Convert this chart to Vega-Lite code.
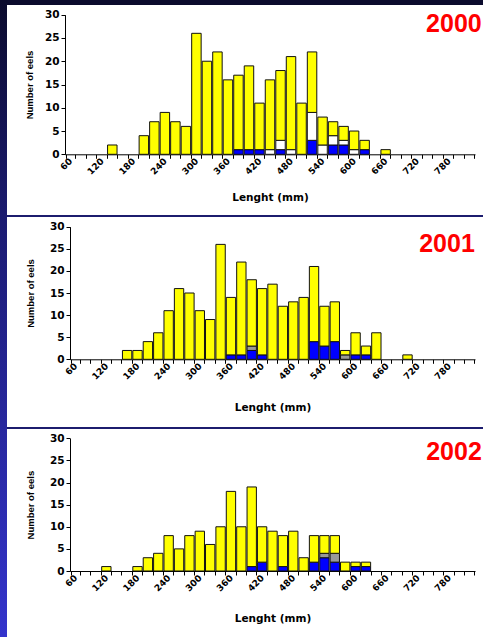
{
  "$schema": "https://vega.github.io/schema/vega-lite/v6.json",
  "background": "#0b0b2d",
  "padding": 0,
  "spacing": 0,
  "bounds": "flush",
  "config": {
    "font": "Liberation Sans",
    "view": {"stroke": null},
    "axis": {"grid": false, "domainColor": "#000000", "tickColor": "#000000", "labelColor": "#000000", "titleColor": "#000000", "domainWidth": 1, "tickWidth": 1},
    "axisY": {"labelOverlap": false, "tickCount": 7, "labelSeparation": 0}
  },
  "datasets": {
    "eels": [
      {"year":"2000","length":140,"stage":"Yellow","n":2},
      {"year":"2000","length":200,"stage":"Yellow","n":4},
      {"year":"2000","length":220,"stage":"Yellow","n":7},
      {"year":"2000","length":240,"stage":"Yellow","n":9},
      {"year":"2000","length":260,"stage":"Yellow","n":7},
      {"year":"2000","length":280,"stage":"Yellow","n":6},
      {"year":"2000","length":300,"stage":"Yellow","n":26},
      {"year":"2000","length":320,"stage":"Yellow","n":20},
      {"year":"2000","length":340,"stage":"Yellow","n":22},
      {"year":"2000","length":360,"stage":"Yellow","n":16},
      {"year":"2000","length":380,"stage":"Silver","n":1},
      {"year":"2000","length":380,"stage":"Yellow","n":16},
      {"year":"2000","length":400,"stage":"Silver","n":1},
      {"year":"2000","length":400,"stage":"Yellow","n":18},
      {"year":"2000","length":420,"stage":"Silver","n":1},
      {"year":"2000","length":420,"stage":"Yellow","n":10},
      {"year":"2000","length":440,"stage":"Silvering","n":1},
      {"year":"2000","length":440,"stage":"Yellow","n":15},
      {"year":"2000","length":460,"stage":"Silver","n":1},
      {"year":"2000","length":460,"stage":"Silvering","n":2},
      {"year":"2000","length":460,"stage":"Yellow","n":15},
      {"year":"2000","length":480,"stage":"Silvering","n":1},
      {"year":"2000","length":480,"stage":"Yellow","n":20},
      {"year":"2000","length":500,"stage":"Yellow","n":11},
      {"year":"2000","length":520,"stage":"Silver","n":3},
      {"year":"2000","length":520,"stage":"Silvering","n":6},
      {"year":"2000","length":520,"stage":"Yellow","n":13},
      {"year":"2000","length":540,"stage":"Silvering","n":2},
      {"year":"2000","length":540,"stage":"Yellow","n":6},
      {"year":"2000","length":560,"stage":"Silver","n":2},
      {"year":"2000","length":560,"stage":"Silvering","n":2},
      {"year":"2000","length":560,"stage":"Yellow","n":3},
      {"year":"2000","length":580,"stage":"Silver","n":2},
      {"year":"2000","length":580,"stage":"Silvering","n":1},
      {"year":"2000","length":580,"stage":"Yellow","n":3},
      {"year":"2000","length":600,"stage":"Silvering","n":1},
      {"year":"2000","length":600,"stage":"Yellow","n":4},
      {"year":"2000","length":620,"stage":"Silver","n":1},
      {"year":"2000","length":620,"stage":"Yellow","n":2},
      {"year":"2000","length":660,"stage":"Yellow","n":1},

      {"year":"2001","length":160,"stage":"Yellow","n":2},
      {"year":"2001","length":180,"stage":"Yellow","n":2},
      {"year":"2001","length":200,"stage":"Yellow","n":4},
      {"year":"2001","length":220,"stage":"Yellow","n":6},
      {"year":"2001","length":240,"stage":"Yellow","n":11},
      {"year":"2001","length":260,"stage":"Yellow","n":16},
      {"year":"2001","length":280,"stage":"Yellow","n":15},
      {"year":"2001","length":300,"stage":"Yellow","n":11},
      {"year":"2001","length":320,"stage":"Yellow","n":9},
      {"year":"2001","length":340,"stage":"Yellow","n":26},
      {"year":"2001","length":360,"stage":"Silver","n":1},
      {"year":"2001","length":360,"stage":"Yellow","n":13},
      {"year":"2001","length":380,"stage":"Silver","n":1},
      {"year":"2001","length":380,"stage":"Yellow","n":21},
      {"year":"2001","length":400,"stage":"Silver","n":2},
      {"year":"2001","length":400,"stage":"Silvering","n":1},
      {"year":"2001","length":400,"stage":"Yellow","n":15},
      {"year":"2001","length":420,"stage":"Silver","n":1},
      {"year":"2001","length":420,"stage":"Yellow","n":15},
      {"year":"2001","length":440,"stage":"Yellow","n":17},
      {"year":"2001","length":460,"stage":"Yellow","n":12},
      {"year":"2001","length":480,"stage":"Yellow","n":13},
      {"year":"2001","length":500,"stage":"Yellow","n":14},
      {"year":"2001","length":520,"stage":"Silver","n":4},
      {"year":"2001","length":520,"stage":"Yellow","n":17},
      {"year":"2001","length":540,"stage":"Silver","n":3},
      {"year":"2001","length":540,"stage":"Yellow","n":9},
      {"year":"2001","length":560,"stage":"Silver","n":4},
      {"year":"2001","length":560,"stage":"Yellow","n":9},
      {"year":"2001","length":580,"stage":"Silvering","n":1},
      {"year":"2001","length":580,"stage":"Yellow","n":1},
      {"year":"2001","length":600,"stage":"Silver","n":1},
      {"year":"2001","length":600,"stage":"Yellow","n":5},
      {"year":"2001","length":620,"stage":"Silver","n":1},
      {"year":"2001","length":620,"stage":"Yellow","n":2},
      {"year":"2001","length":640,"stage":"Yellow","n":6},
      {"year":"2001","length":700,"stage":"Yellow","n":1},

      {"year":"2002","length":120,"stage":"Yellow","n":1},
      {"year":"2002","length":180,"stage":"Yellow","n":1},
      {"year":"2002","length":200,"stage":"Yellow","n":3},
      {"year":"2002","length":220,"stage":"Yellow","n":4},
      {"year":"2002","length":240,"stage":"Yellow","n":8},
      {"year":"2002","length":260,"stage":"Yellow","n":5},
      {"year":"2002","length":280,"stage":"Yellow","n":8},
      {"year":"2002","length":300,"stage":"Yellow","n":9},
      {"year":"2002","length":320,"stage":"Yellow","n":6},
      {"year":"2002","length":340,"stage":"Yellow","n":10},
      {"year":"2002","length":360,"stage":"Yellow","n":18},
      {"year":"2002","length":380,"stage":"Yellow","n":10},
      {"year":"2002","length":400,"stage":"Silver","n":1},
      {"year":"2002","length":400,"stage":"Yellow","n":18},
      {"year":"2002","length":420,"stage":"Silver","n":2},
      {"year":"2002","length":420,"stage":"Yellow","n":8},
      {"year":"2002","length":440,"stage":"Yellow","n":9},
      {"year":"2002","length":460,"stage":"Silver","n":1},
      {"year":"2002","length":460,"stage":"Yellow","n":7},
      {"year":"2002","length":480,"stage":"Yellow","n":9},
      {"year":"2002","length":500,"stage":"Yellow","n":3},
      {"year":"2002","length":520,"stage":"Silver","n":2},
      {"year":"2002","length":520,"stage":"Yellow","n":6},
      {"year":"2002","length":540,"stage":"Silver","n":3},
      {"year":"2002","length":540,"stage":"Silvering","n":1},
      {"year":"2002","length":540,"stage":"Yellow","n":4},
      {"year":"2002","length":560,"stage":"Silver","n":2},
      {"year":"2002","length":560,"stage":"Silvering","n":2},
      {"year":"2002","length":560,"stage":"Yellow","n":4},
      {"year":"2002","length":580,"stage":"Yellow","n":2},
      {"year":"2002","length":600,"stage":"Silver","n":1},
      {"year":"2002","length":600,"stage":"Yellow","n":1},
      {"year":"2002","length":620,"stage":"Silver","n":1},
      {"year":"2002","length":620,"stage":"Yellow","n":1}
    ]
  },
  "hconcat": [
    {
      "width": 7, "height": 637,
      "view": {"fill": {"gradient": "linear", "x1": 0, "y1": 0, "x2": 0, "y2": 1, "stops": [{"offset": 0, "color": "#0a0a2c"}, {"offset": 0.35, "color": "#1b1b72"}, {"offset": 1, "color": "#3434cc"}]}, "stroke": null},
      "data": {"values": []},
      "mark": "rect",
      "encoding": {}
    },
    {
      "spacing": 0,
      "bounds": "flush",
      "resolve": {"scale": {"color": "independent", "x": "independent", "y": "independent"}},
      "vconcat": [
        {
          "width": 476, "height": 5,
          "view": {"fill": "#0b0b2d", "stroke": null},
          "data": {"values": []},
          "mark": "rect",
          "encoding": {}
        },
        {
          "width": 476, "height": 210,
          "view": {"fill": "#ffffff", "stroke": null},
          "layer": [
            {
              "data": {"name": "eels"},
              "transform": [{"filter": "datum.year == '2000'"}],
              "mark": {"type": "bar", "stroke": "#111111", "strokeWidth": 1},
              "encoding": {
                "x": {"field": "length", "type": "ordinal",
                  "scale": {"domain": [60,80,100,120,140,160,180,200,220,240,260,280,300,320,340,360,380,400,420,440,460,480,500,520,540,560,580,600,620,640,660,680,700,720,740,760,780,800,820], "range": [58, 468], "paddingInner": 0.1, "paddingOuter": 0.05},
                  "axis": {"orient": "bottom", "offset": -60.7, "tickBand": "extent", "tickSize": 4, "labelAngle": -45, "labelAlign": "right", "labelBaseline": "middle", "labelPadding": 1, "labelExpr": "datum.value % 60 == 0 ? datum.label : ''", "labelOverlap": false, "labelFont": "DejaVu Sans", "labelFontSize": 9, "labelFontWeight": "bold", "title": "Lenght (mm)", "titleFont": "DejaVu Sans", "titleFontSize": 10.5, "titleFontWeight": "bold", "titlePadding": 16}},
                "y": {"field": "n", "type": "quantitative", "stack": "zero",
                  "scale": {"domain": [0, 30], "range": [149.3, 9.7], "nice": false},
                  "axis": {"orient": "left", "offset": -58, "values": [0,5,10,15,20,25,30], "tickCount": 7, "labelOverlap": false, "tickSize": 4, "labelPadding": 2, "labelFont": "DejaVu Sans", "labelFontSize": 10.5, "labelFontWeight": "bold", "title": "Number of eels", "titleFont": "Liberation Sans", "titleFontSize": 9.5, "titleFontWeight": "bold", "titlePadding": 10}},
                "color": {"field": "stage", "type": "nominal",
                  "scale": {"domain": ["Silver", "Silvering", "Yellow"], "range": ["#0000ff", "#ffffff", "#ffff00"]}, "legend": null},
                "order": {"field": "stage", "sort": "ascending"}
              }
            },
            {
              "data": {"values": [{"year": "2000"}]},
              "mark": {"type": "text", "align": "right", "baseline": "alphabetic", "dx": 12, "fontSize": 25, "font": "Liberation Sans", "fontWeight": "bold", "color": "#ff0000"},
              "encoding": {
                "x": {"datum": 820, "type": "ordinal"},
                "y": {"datum": 26.35, "type": "quantitative"},
                "text": {"field": "year"}
              }
            }
          ]
        },
        {
          "width": 476, "height": 2,
          "view": {"fill": "#1c1c6e", "stroke": null},
          "data": {"values": []},
          "mark": "rect",
          "encoding": {}
        },
        {
          "width": 476, "height": 210,
          "view": {"fill": "#ffffff", "stroke": null},
          "layer": [
            {
              "data": {"name": "eels"},
              "transform": [{"filter": "datum.year == '2001'"}],
              "mark": {"type": "bar", "stroke": "#111111", "strokeWidth": 1},
              "encoding": {
                "x": {"field": "length", "type": "ordinal",
                  "scale": {"domain": [60,80,100,120,140,160,180,200,220,240,260,280,300,320,340,360,380,400,420,440,460,480,500,520,540,560,580,600,620,640,660,680,700,720,740,760,780,800,820], "range": [63, 468], "paddingInner": 0.1, "paddingOuter": 0.05},
                  "axis": {"orient": "bottom", "offset": -67.7, "tickBand": "extent", "tickSize": 4, "labelAngle": -45, "labelAlign": "right", "labelBaseline": "middle", "labelPadding": 1, "labelExpr": "datum.value % 60 == 0 ? datum.label : ''", "labelOverlap": false, "labelFont": "DejaVu Sans", "labelFontSize": 9, "labelFontWeight": "bold", "title": "Lenght (mm)", "titleFont": "DejaVu Sans", "titleFontSize": 10.5, "titleFontWeight": "bold", "titlePadding": 21}},
                "y": {"field": "n", "type": "quantitative", "stack": "zero",
                  "scale": {"domain": [0, 30], "range": [142.3, 9.7], "nice": false},
                  "axis": {"orient": "left", "offset": -63, "values": [0,5,10,15,20,25,30], "tickCount": 7, "labelOverlap": false, "tickSize": 4, "labelPadding": 2, "labelFont": "DejaVu Sans", "labelFontSize": 10.5, "labelFontWeight": "bold", "title": "Number of eels", "titleFont": "Liberation Sans", "titleFontSize": 9.5, "titleFontWeight": "bold", "titlePadding": 14}},
                "color": {"field": "stage", "type": "nominal",
                  "scale": {"domain": ["Silver", "Silvering", "Yellow"], "range": ["#0000ff", "#999999", "#ffff00"]}, "legend": null},
                "order": {"field": "stage", "sort": "ascending"}
              }
            },
            {
              "data": {"values": [{"year": "2001"}]},
              "mark": {"type": "text", "align": "right", "baseline": "alphabetic", "dx": 5, "fontSize": 25, "font": "Liberation Sans", "fontWeight": "bold", "color": "#ff0000"},
              "encoding": {
                "x": {"datum": 820, "type": "ordinal"},
                "y": {"datum": 24.3, "type": "quantitative"},
                "text": {"field": "year"}
              }
            }
          ]
        },
        {
          "width": 476, "height": 2,
          "view": {"fill": "#1c1c6e", "stroke": null},
          "data": {"values": []},
          "mark": "rect",
          "encoding": {}
        },
        {
          "width": 476, "height": 208,
          "view": {"fill": "#ffffff", "stroke": null},
          "layer": [
            {
              "data": {"name": "eels"},
              "transform": [{"filter": "datum.year == '2002'"}],
              "mark": {"type": "bar", "stroke": "#111111", "strokeWidth": 1},
              "encoding": {
                "x": {"field": "length", "type": "ordinal",
                  "scale": {"domain": [60,80,100,120,140,160,180,200,220,240,260,280,300,320,340,360,380,400,420,440,460,480,500,520,540,560,580,600,620,640,660,680,700,720,740,760,780,800,820], "range": [63, 468], "paddingInner": 0.1, "paddingOuter": 0.05},
                  "axis": {"orient": "bottom", "offset": -66, "tickBand": "extent", "tickSize": 4, "labelAngle": -45, "labelAlign": "right", "labelBaseline": "middle", "labelPadding": 1, "labelExpr": "datum.value % 60 == 0 ? datum.label : ''", "labelOverlap": false, "labelFont": "DejaVu Sans", "labelFontSize": 9, "labelFontWeight": "bold", "title": "Lenght (mm)", "titleFont": "DejaVu Sans", "titleFontSize": 10.5, "titleFontWeight": "bold", "titlePadding": 21}},
                "y": {"field": "n", "type": "quantitative", "stack": "zero",
                  "scale": {"domain": [0, 30], "range": [142, 9.3], "nice": false},
                  "axis": {"orient": "left", "offset": -63, "values": [0,5,10,15,20,25,30], "tickCount": 7, "labelOverlap": false, "tickSize": 4, "labelPadding": 2, "labelFont": "DejaVu Sans", "labelFontSize": 10.5, "labelFontWeight": "bold", "title": "Number of eels", "titleFont": "Liberation Sans", "titleFontSize": 9.5, "titleFontWeight": "bold", "titlePadding": 14}},
                "color": {"field": "stage", "type": "nominal",
                  "scale": {"domain": ["Silver", "Silvering", "Yellow"], "range": ["#0000ff", "#999999", "#ffff00"]}, "legend": null},
                "order": {"field": "stage", "sort": "ascending"}
              }
            },
            {
              "data": {"values": [{"year": "2002"}]},
              "mark": {"type": "text", "align": "right", "baseline": "alphabetic", "dx": 12, "fontSize": 25, "font": "Liberation Sans", "fontWeight": "bold", "color": "#ff0000"},
              "encoding": {
                "x": {"datum": 820, "type": "ordinal"},
                "y": {"datum": 25.1, "type": "quantitative"},
                "text": {"field": "year"}
              }
            }
          ]
        }
      ]
    }
  ]
}
